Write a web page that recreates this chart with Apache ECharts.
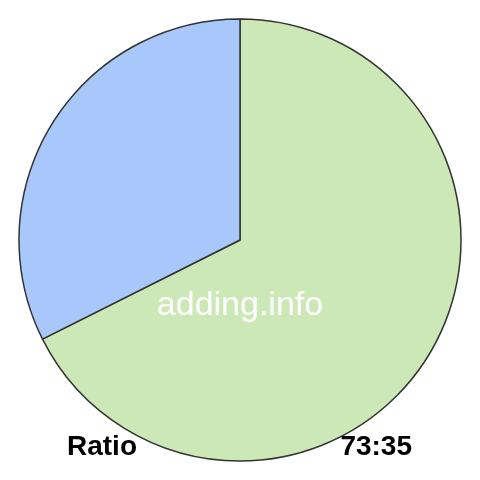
<!DOCTYPE html>
<html><head><meta charset="utf-8">
<script src="https://cdn.jsdelivr.net/npm/echarts@6/dist/echarts.min.js"></script>
<style>html,body{margin:0;padding:0;background:#fff}#c{width:480px;height:480px}</style>
</head><body><div id="c"></div>
<script>
const categories = ['A', 'B'];
const values = [73, 35];
const colors = ['#cde8b7', '#a8c7fa'];
const watermark = 'adding.info';
const leftLabel = 'Ratio';
const rightLabel = values.join(':');

const chart = echarts.init(document.getElementById('c'));
chart.setOption({
  animation: false,
  series: [{
    type: 'pie',
    center: [240, 240],
    radius: [0, 221],
    startAngle: 90,
    clockwise: true,
    z: 1,
    label: { show: false },
    labelLine: { show: false },
    emphasis: { disabled: true },
    itemStyle: { borderColor: '#333', borderWidth: 1.5 },
    data: categories.map((c, i) => ({ name: c, value: values[i], itemStyle: { color: colors[i] } }))
  }],
  graphic: {
    elements: [
      { type: 'text', z: 100, left: 'center', top: 289, style: { text: watermark, fill: '#fff', font: '34px "Liberation Sans", Arial, sans-serif' } },
      { type: 'text', z: 100, left: 67, top: 433, style: { text: leftLabel, fill: '#000', font: 'bold 28px "Liberation Sans", Arial, sans-serif' } },
      { type: 'text', z: 100, right: 68, top: 433, style: { text: rightLabel, fill: '#000', font: 'bold 28px "Liberation Sans", Arial, sans-serif' } }
    ]
  }
});
</script></body></html>
